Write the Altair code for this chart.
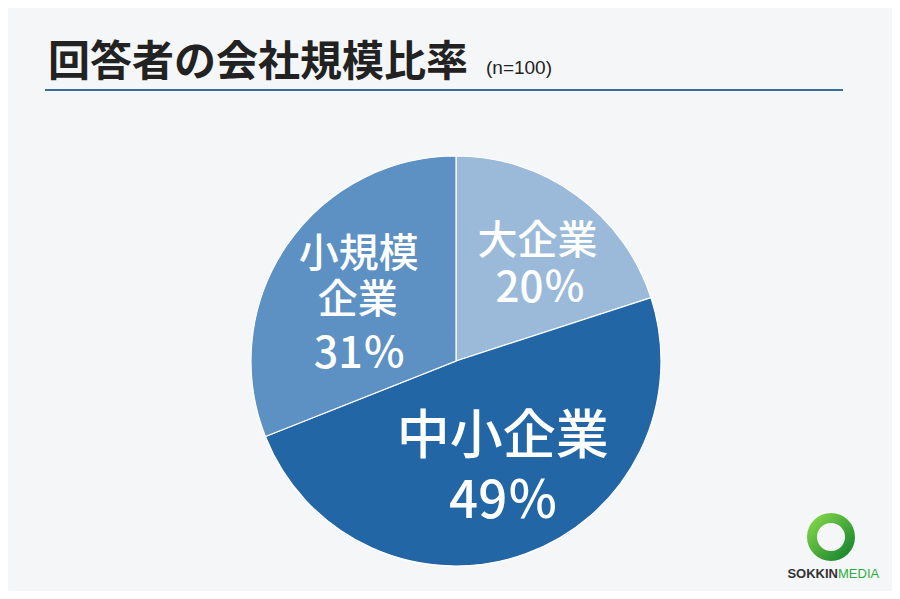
import altair as alt
import pandas as pd

# ---- data ----
categories = ["大企業", "中小企業", "小規模企業"]
values = [20, 49, 31]
label_line0 = ["大企業", "中小企業", "小規模"]
label_line1 = ["", "", "企業"]
colors = ["#9bbad9", "#2366a6", "#5d90c3"]
title_text = "回答者の会社規模比率"
subtitle_text = "(n=100)"
logo_left = "SOKKIN"
logo_right = "MEDIA"

total = sum(values)
df = pd.DataFrame({
    "category": categories,
    "value": values,
    "order": list(range(len(categories))),
    "line0": label_line0,
    "line1": label_line1,
})

CX, CY, R = 448, 353, 205
FONT = "Noto Sans CJK JP"
theta_scale = alt.Scale(domain=[0, total], range=[0, 6.283185307179586])

pie = alt.Chart(df).mark_arc(
    x=CX, y=CY, outerRadius=R, stroke="white", strokeWidth=1.2
).encode(
    theta=alt.Theta("value:Q", stack=True, scale=theta_scale),
    color=alt.Color("category:N", scale=alt.Scale(domain=categories, range=colors), legend=None),
    order=alt.Order("order:Q"),
)

base = alt.Chart(df).transform_window(
    cum="sum(value)", sort=[alt.SortField("order")]
).transform_calculate(
    mid="datum.cum - datum.value / 2",
    pct="datum.value + '％'",
)

specs = [
    ("大企業", "line0", 40, 11, -22),
    ("大企業", "pct", 42, 14, 25),
    ("中小企業", "line0", 53, 6, -36),
    ("中小企業", "pct", 51, 7, 29),
    ("小規模企業", "line0", 40, 2, -39),
    ("小規模企業", "line1", 40, 1, 7),
    ("小規模企業", "pct", 43, 3, 61),
]

labels = []
for cat, field, size, dx, dy in specs:
    labels.append(
        base.transform_filter(alt.datum.category == cat).mark_text(
            x=CX, y=CY, radius=120, dx=dx, dy=dy, fontSize=size,
            font=FONT, fontWeight=500, color="white", align="center", baseline="middle",
        ).encode(
            theta=alt.Theta("mid:Q", stack=False, scale=theta_scale),
            text=alt.Text(f"{field}:N"),
        )
    )

ann = alt.Chart(pd.DataFrame({"title": [title_text], "sub": [subtitle_text],
                              "l": [logo_left], "r": [logo_right]}))

title = ann.mark_text(font=FONT, fontSize=42, fontWeight="bold", color="#222222",
                      align="left", baseline="alphabetic").encode(
    x=alt.value(40), y=alt.value(68), text="title:N")
sub = ann.mark_text(font="Liberation Sans", fontSize=19, color="#222222",
                    align="left", baseline="alphabetic").encode(
    x=alt.value(478), y=alt.value(66), text="sub:N")
rule = ann.mark_rule(color="#35709f", strokeWidth=2).encode(
    x=alt.value(37), x2=alt.value(835), y=alt.value(82))

ring = ann.mark_arc(
    theta=0, theta2=6.283185307179586, outerRadius=24, innerRadius=14,
    fill={"gradient": "linear", "x1": 0, "y1": 0, "x2": 1, "y2": 1,
          "stops": [{"offset": 0, "color": "#8fe04c"}, {"offset": 1, "color": "#0b7a2b"}]},
).encode(x=alt.value(823), y=alt.value(529))
logo_l = ann.mark_text(font="Liberation Sans", fontSize=13, fontWeight="bold", color="#333333",
                       align="right", baseline="alphabetic").encode(
    x=alt.value(830), y=alt.value(570), text="l:N")
logo_r = ann.mark_text(font="Liberation Sans", fontSize=13, color="#2fae3e",
                       align="left", baseline="alphabetic").encode(
    x=alt.value(830), y=alt.value(570), text="r:N")

chart = alt.layer(pie, *labels, title, sub, rule, ring, logo_l, logo_r).properties(
    width=884, height=583, autosize=alt.AutoSizeParams(type="none"), padding=0,
    background="#f5f6f8",
).configure_view(stroke=None)

chart.save("out.html", embed_options={"renderer": "svg", "actions": False})
